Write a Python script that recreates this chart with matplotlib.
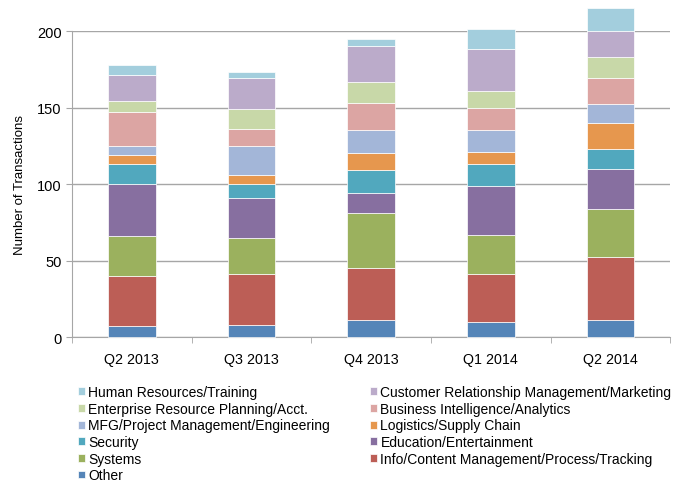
import numpy as np
import matplotlib.pyplot as plt

plt.rcParams['font.family'] = ['Liberation Sans', 'DejaVu Sans']

quarters = ["Q2 2013", "Q3 2013", "Q4 2013", "Q1 2014", "Q2 2014"]

# series bottom to top
other       = [7, 8, 11, 10, 11]
info        = [33, 33, 34, 31, 41]
systems     = [26, 24, 36, 26, 32]
education   = [34, 26, 13, 32, 26]
security    = [13, 9, 15, 14, 13]
logistics   = [6, 6, 11, 8, 17]
mfg         = [6, 19, 15, 14, 12]
bi          = [22, 11, 18, 15, 17]
erp         = [7, 13, 14, 11, 14]
crm         = [17, 20, 23, 27, 17]
hr          = [7, 4, 5, 13, 15]

series = [
    ("Other", other, "#5585B8"),
    ("Info/Content Management/Process/Tracking", info, "#BC5E56"),
    ("Systems", systems, "#9BB15E"),
    ("Education/Entertainment", education, "#876FA0"),
    ("Security", security, "#51A8BE"),
    ("Logistics/Supply Chain", logistics, "#E6974E"),
    ("MFG/Project Management/Engineering", mfg, "#A3B6D8"),
    ("Business Intelligence/Analytics", bi, "#DCA5A3"),
    ("Enterprise Resource Planning/Acct.", erp, "#C8D8A8"),
    ("Customer Relationship Management/Marketing", crm, "#BBABCA"),
    ("Human Resources/Training", hr, "#A3CEDD"),
]

fig = plt.figure(figsize=(6.73, 4.85), dpi=100)
ax = fig.add_axes([0.107, 0.303, 0.889, 0.631])

x = np.arange(len(quarters))
bottom = np.zeros(len(quarters))
handles = {}
for name, vals, col in series:
    b = ax.bar(x, vals, 0.4, bottom=bottom, color=col, edgecolor="white",
               linewidth=0.5, label=name, clip_on=False, zorder=3)
    handles[name] = b
    bottom += np.array(vals)

ax.set_xlim(-0.5, len(quarters) - 0.5)
ax.set_ylim(0, 200)
ax.set_yticks([0, 50, 100, 150, 200])
ax.yaxis.grid(True, color="#A6A6A6", linewidth=1, zorder=0)
ax.set_axisbelow(True)
ax.set_xticks(x)
ax.set_xticklabels(quarters)
ax.set_xticks(np.arange(-0.5, len(quarters)), minor=True)
ax.tick_params(axis="x", which="major", length=0, labelsize=10.3, pad=11)
ax.tick_params(axis="x", which="minor", length=4, color="#A6A6A6")
ax.tick_params(axis="y", length=4, color="#A6A6A6", labelsize=10.5)
for s in ["top", "right"]:
    ax.spines[s].set_visible(False)
ax.spines["left"].set_color("#A6A6A6")
ax.spines["bottom"].set_color("#A6A6A6")
ax.set_ylabel("Number of Transactions", fontsize=9.5, labelpad=8)

order = ["Human Resources/Training", "Enterprise Resource Planning/Acct.",
         "MFG/Project Management/Engineering", "Security", "Systems", "Other",
         "Customer Relationship Management/Marketing",
         "Business Intelligence/Analytics", "Logistics/Supply Chain",
         "Education/Entertainment", "Info/Content Management/Process/Tracking"]
fig.legend([handles[n] for n in order], order, ncol=2, loc="upper left",
           bbox_to_anchor=(0.105, 0.218), frameon=False, fontsize=10,
           handlelength=0.5, handleheight=0.5, handletextpad=0.25,
           labelspacing=0.19, columnspacing=2.9, borderpad=0)

fig.savefig("out.png", dpi=100)
